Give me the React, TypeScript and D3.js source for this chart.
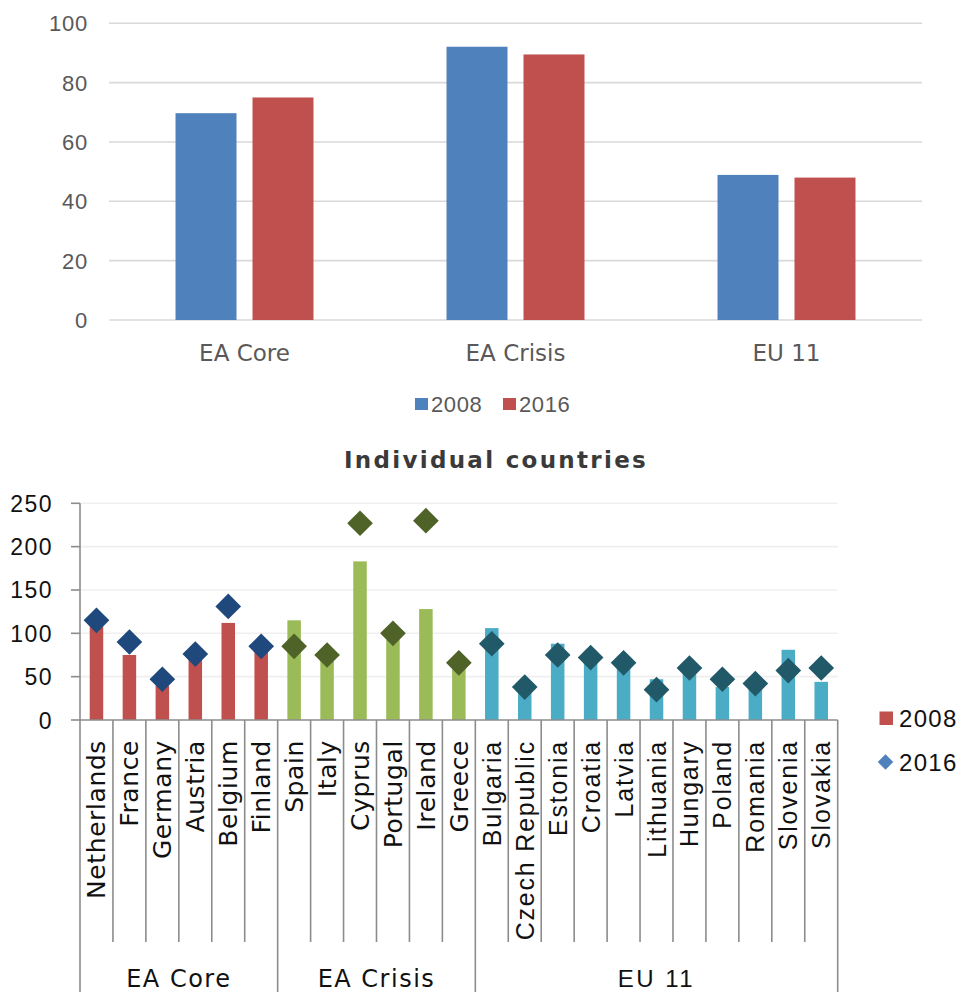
import React from "react";
import * as d3 from "d3";

const topCategories = ["EA Core", "EA Crisis", "EU 11"];
const topSeries = ["2008", "2016"];
const top2008 = [69.7, 92.1, 48.9];
const top2016 = [75.0, 89.5, 48.0];
const topTicks = [0, 20, 40, 60, 80, 100];

const groups = ["EA Core", "EA Crisis", "EU 11"];
const countries = [
  "Netherlands", "France", "Germany", "Austria", "Belgium", "Finland",
  "Spain", "Italy", "Cyprus", "Portugal", "Ireland", "Greece",
  "Bulgaria", "Czech Republic", "Estonia", "Croatia", "Latvia", "Lithuania",
  "Hungary", "Poland", "Romania", "Slovenia", "Slovakia",
];
const countryGroup = [
  0, 0, 0, 0, 0, 0,
  1, 1, 1, 1, 1, 1,
  2, 2, 2, 2, 2, 2, 2, 2, 2, 2, 2,
];
const v2008 = [108, 75, 40, 70, 112, 80, 115, 72, 183, 93, 128, 62, 106, 33, 88, 68, 60, 47, 62, 38, 36, 81, 44];
const v2016 = [115, 90, 47, 76, 131, 85, 85, 75, 227, 100, 230, 66, 88, 38, 75, 72, 66, 35, 60, 47, 42, 57, 60];
const bottomTicks = [0, 50, 100, 150, 200, 250];

const barColors = ["#c0504d", "#9bbb59", "#4bacc6"];
const diamondColors = ["#1f497d", "#4f6228", "#215968"];
const topColors = ["#4f81bd", "#c0504d"];

const ARIAL = "'Liberation Sans', Arimo, Arial, sans-serif";
const DEJAVU = "'DejaVu Sans', Verdana, sans-serif";

export default function App() {
  // top chart
  const yTop = d3.scaleLinear().domain([0, 100]).range([320, 23.3]);
  const xTop = d3.scaleBand().domain(topCategories).range([109, 922]).padding(0);
  const xSer = d3
    .scaleBand()
    .domain(topSeries)
    .range([0, xTop.bandwidth()])
    .paddingInner(0.208)
    .paddingOuter(0.864);
  const topVals = [top2008, top2016];

  // bottom chart
  const yB = d3.scaleLinear().domain([0, 250]).range([720, 503.3]);
  const xB = d3.scaleBand().domain(countries).range([80, 837.7]).padding(0);
  const bw = xB.bandwidth() * 0.41;
  const diamond = d3.symbol().type(d3.symbolSquare).size(330)();
  const legendDiamond = d3.symbol().type(d3.symbolSquare).size(120)();

  const groupBounds = groups.map((g, gi) => {
    const idx = countries.filter((_, i) => countryGroup[i] === gi);
    const x0 = xB(idx[0])!;
    const x1 = xB(idx[idx.length - 1])! + xB.bandwidth();
    return { g, gi, x0, x1 };
  });

  return (
    <svg
      width={961}
      height={992}
      style={{ position: "absolute", left: 0, top: 0, background: "#fff" }}
    >
      {/* ===== Top chart ===== */}
      <g>
        {topTicks.map((t) => (
          <g key={t}>
            <line x1={109} x2={922} y1={yTop(t)} y2={yTop(t)} stroke="#d9d9d9" strokeWidth={1.6} />
            <text
              x={88}
              y={yTop(t) + 8}
              textAnchor="end"
              style={{ fontFamily: ARIAL }}
              fontSize={22}
              letterSpacing={0.8}
              fill="#595959"
            >
              {t}
            </text>
          </g>
        ))}
        {topCategories.map((c, ci) => (
          <g key={c}>
            {topSeries.map((s, si) => {
              const v = topVals[si][ci];
              return (
                <rect
                  key={s}
                  x={xTop(c)! + xSer(s)!}
                  y={yTop(v)}
                  width={xSer.bandwidth()}
                  height={yTop(0) - yTop(v)}
                  fill={topColors[si]}
                />
              );
            })}
            <text
              x={xTop(c)! + xTop.bandwidth() / 2}
              y={360.5}
              textAnchor="middle"
              style={{ fontFamily: DEJAVU }}
              fontSize={23}
              fill="#595959"
            >
              {c}
            </text>
          </g>
        ))}
        {/* legend */}
        {topSeries.map((s, si) => {
          const lx = 415 + si * 88;
          return (
            <g key={s}>
              <rect x={lx} y={398} width={13} height={12} fill={topColors[si]} />
              <text
                x={lx + 16}
                y={411.5}
                style={{ fontFamily: ARIAL }}
                fontSize={22}
                letterSpacing={0.6}
                fill="#595959"
              >
                {s}
              </text>
            </g>
          );
        })}
      </g>

      {/* ===== Title ===== */}
      <text
        x={496}
        y={468.3}
        textAnchor="middle"
        style={{ fontFamily: DEJAVU }}
        fontWeight="bold"
        fontSize={23}
        letterSpacing={2.3}
        fill="#3a3a3a"
      >
        Individual countries
      </text>

      {/* ===== Bottom chart ===== */}
      <g>
        {bottomTicks.map((t) => (
          <g key={t}>
            {t > 0 && (
              <line x1={80} x2={837.7} y1={yB(t)} y2={yB(t)} stroke="#efefef" strokeWidth={1.6} />
            )}
            <line x1={71} x2={80} y1={yB(t)} y2={yB(t)} stroke="#8c8c8c" strokeWidth={1.6} />
            <text
              x={53}
              y={yB(t) + 8.5}
              textAnchor="end"
              style={{ fontFamily: ARIAL }}
              fontSize={23}
              letterSpacing={1.5}
              fill="#111"
            >
              {t}
            </text>
          </g>
        ))}
        {/* bars */}
        {countries.map((c, i) => {
          const cx = xB(c)! + xB.bandwidth() / 2;
          return (
            <rect
              key={c}
              x={cx - bw / 2}
              y={yB(v2008[i])}
              width={bw}
              height={yB(0) - yB(v2008[i])}
              fill={barColors[countryGroup[i]]}
            />
          );
        })}
        {/* diamonds */}
        {countries.map((c, i) => {
          const cx = xB(c)! + xB.bandwidth() / 2;
          return (
            <path
              key={c}
              d={diamond!}
              transform={`translate(${cx},${yB(v2016[i])}) rotate(45)`}
              fill={diamondColors[countryGroup[i]]}
            />
          );
        })}
        {/* axes */}
        <line x1={80} x2={80} y1={503.3} y2={720} stroke="#8c8c8c" strokeWidth={1.6} />
        <line x1={80} x2={837.7} y1={720} y2={720} stroke="#8c8c8c" strokeWidth={1.6} />
        {countries.map((c, i) => {
          const x = xB(c)!;
          if (i === 0 || countryGroup[i] !== countryGroup[i - 1]) return null;
          return (
            <line key={c} x1={x} x2={x} y1={720} y2={942} stroke="#8c8c8c" strokeWidth={1.6} />
          );
        })}
        {groupBounds.map((b) => (
          <g key={b.g}>
            <line x1={b.x0} x2={b.x0} y1={720} y2={992} stroke="#8c8c8c" strokeWidth={1.6} />
            {b.gi === groups.length - 1 && (
              <line x1={b.x1} x2={b.x1} y1={720} y2={992} stroke="#8c8c8c" strokeWidth={1.6} />
            )}
            <text
              x={(b.x0 + b.x1) / 2}
              y={986.5}
              textAnchor="middle"
              style={{ fontFamily: b.gi === 2 ? ARIAL : DEJAVU }}
              fontSize={24}
              letterSpacing={b.gi === 2 ? 2.5 : 1.5}
              fill="#111"
            >
              {b.g}
            </text>
          </g>
        ))}
        {/* country labels */}
        {countries.map((c, i) => {
          const cx = xB(c)! + xB.bandwidth() / 2;
          const eu = countryGroup[i] === 2;
          return (
            <text
              key={c}
              transform={`translate(${cx + 9},${740}) rotate(-90)`}
              textAnchor="end"
              style={{ fontFamily: eu ? ARIAL : DEJAVU }}
              fontSize={25}
              letterSpacing={eu ? 1.8 : 0.6}
              fill="#111"
            >
              {c}
            </text>
          );
        })}
        {/* legend */}
        <rect x={879.5} y={711.5} width={13.5} height={13.5} fill="#c0504d" />
        <text
          x={899}
          y={727}
          style={{ fontFamily: ARIAL }}
          fontSize={24}
          letterSpacing={1.3}
          fill="#111"
        >
          2008
        </text>
        <path d={legendDiamond!} transform="translate(885.5,762) rotate(45)" fill="#4f81bd" />
        <text
          x={899}
          y={770.5}
          style={{ fontFamily: ARIAL }}
          fontSize={24}
          letterSpacing={1.3}
          fill="#111"
        >
          2016
        </text>
      </g>
    </svg>
  );
}
